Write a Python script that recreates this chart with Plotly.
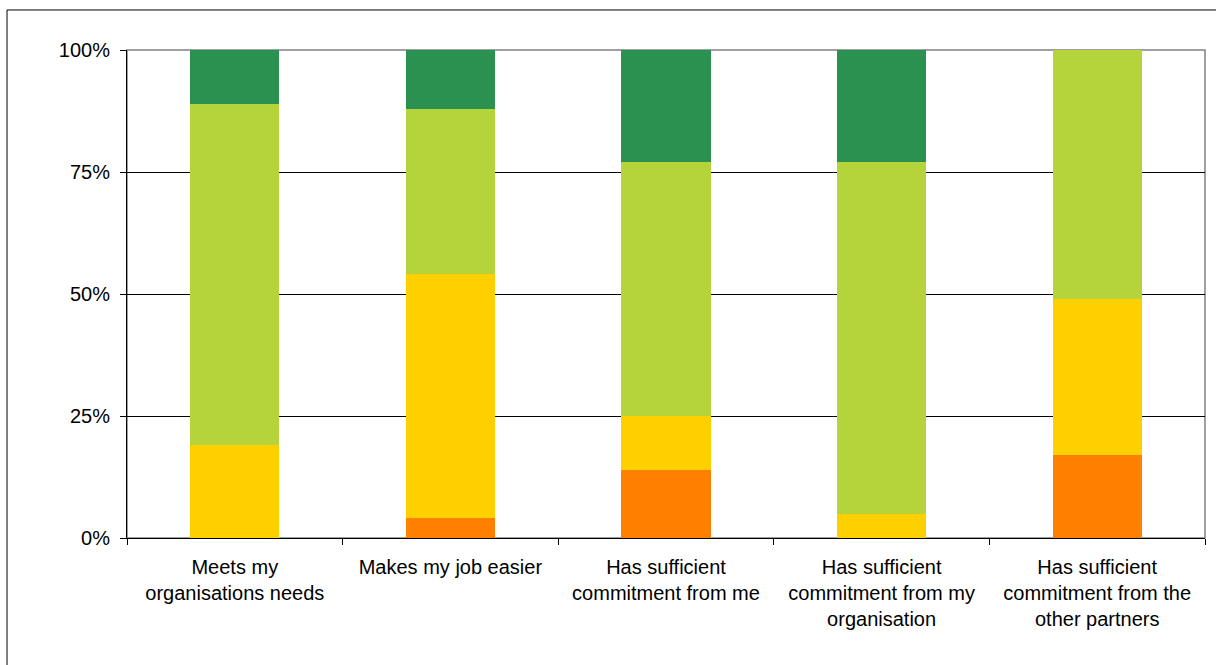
import plotly.graph_objects as go

# ---- data (percent of respondents) ----
categories = [
    "Meets my<br>organisations needs",
    "Makes my job easier",
    "Has sufficient<br>commitment from me",
    "Has sufficient<br>commitment from my<br>organisation",
    "Has sufficient<br>commitment from the<br>other partners",
]
strongly_disagree = [0, 4, 14, 0, 17]
disagree = [19, 50, 11, 5, 32]
neutral = [70, 34, 52, 72, 51]
agree = [11, 12, 23, 23, 0]
tick_values = [0, 25, 50, 75, 100]
tick_labels = ["0%", "25%", "50%", "75%", "100%"]

series = [
    ("Strongly disagree", strongly_disagree, "#FF8000"),
    ("Disagree", disagree, "#FFD000"),
    ("Neutral", neutral, "#B5D43C"),
    ("Agree", agree, "#2A9150"),
]

fig = go.Figure()
for name, vals, col in series:
    fig.add_trace(go.Bar(
        x=categories, y=vals, name=name,
        marker=dict(color=col, line=dict(width=0)),
    ))

FONT = "Liberation Sans, Arial, sans-serif"

fig.update_layout(
    width=1216, height=665,
    barmode="stack",
    bargap=0.587,
    showlegend=False,
    plot_bgcolor="white",
    paper_bgcolor="white",
    font=dict(family=FONT, size=20, color="black"),
    margin=dict(l=127, r=11, t=50, b=127),
    xaxis=dict(
        showline=True, linecolor="black", linewidth=1,
        ticks="outside", tickson="boundaries", ticklen=6, tickcolor="black",
        showgrid=False,
        ticklabelstandoff=11,
        tickfont=dict(family=FONT, size=20, color="black"),
    ),
    yaxis=dict(
        range=[0, 100],
        tickvals=tick_values, ticktext=tick_labels,
        showgrid=True, gridcolor="black", gridwidth=1,
        showline=True, linecolor="black", linewidth=1,
        ticks="outside", ticklen=6, tickcolor="black",
        zeroline=False,
        ticklabelstandoff=6,
        tickfont=dict(family=FONT, size=20, color="black"),
    ),
    shapes=[
        # plot-area border (grey), under the bars
        dict(type="rect", xref="paper", yref="paper", x0=0, x1=1, y0=0, y1=1,
             line=dict(color="#808080", width=1.5), fillcolor="rgba(0,0,0,0)",
             layer="between"),
        # outer chart border
        dict(type="rect", xref="paper", yref="paper",
             x0=-0.1113, x1=1.012, y0=-0.262, y1=1.082,
             line=dict(color="black", width=1), fillcolor="rgba(0,0,0,0)",
             layer="above"),
    ],
)

fig.write_html(
    "out.html",
    config={"displayModeBar": False},
    post_script="document.body.style.margin='0';document.body.style.overflow='hidden';",
)
